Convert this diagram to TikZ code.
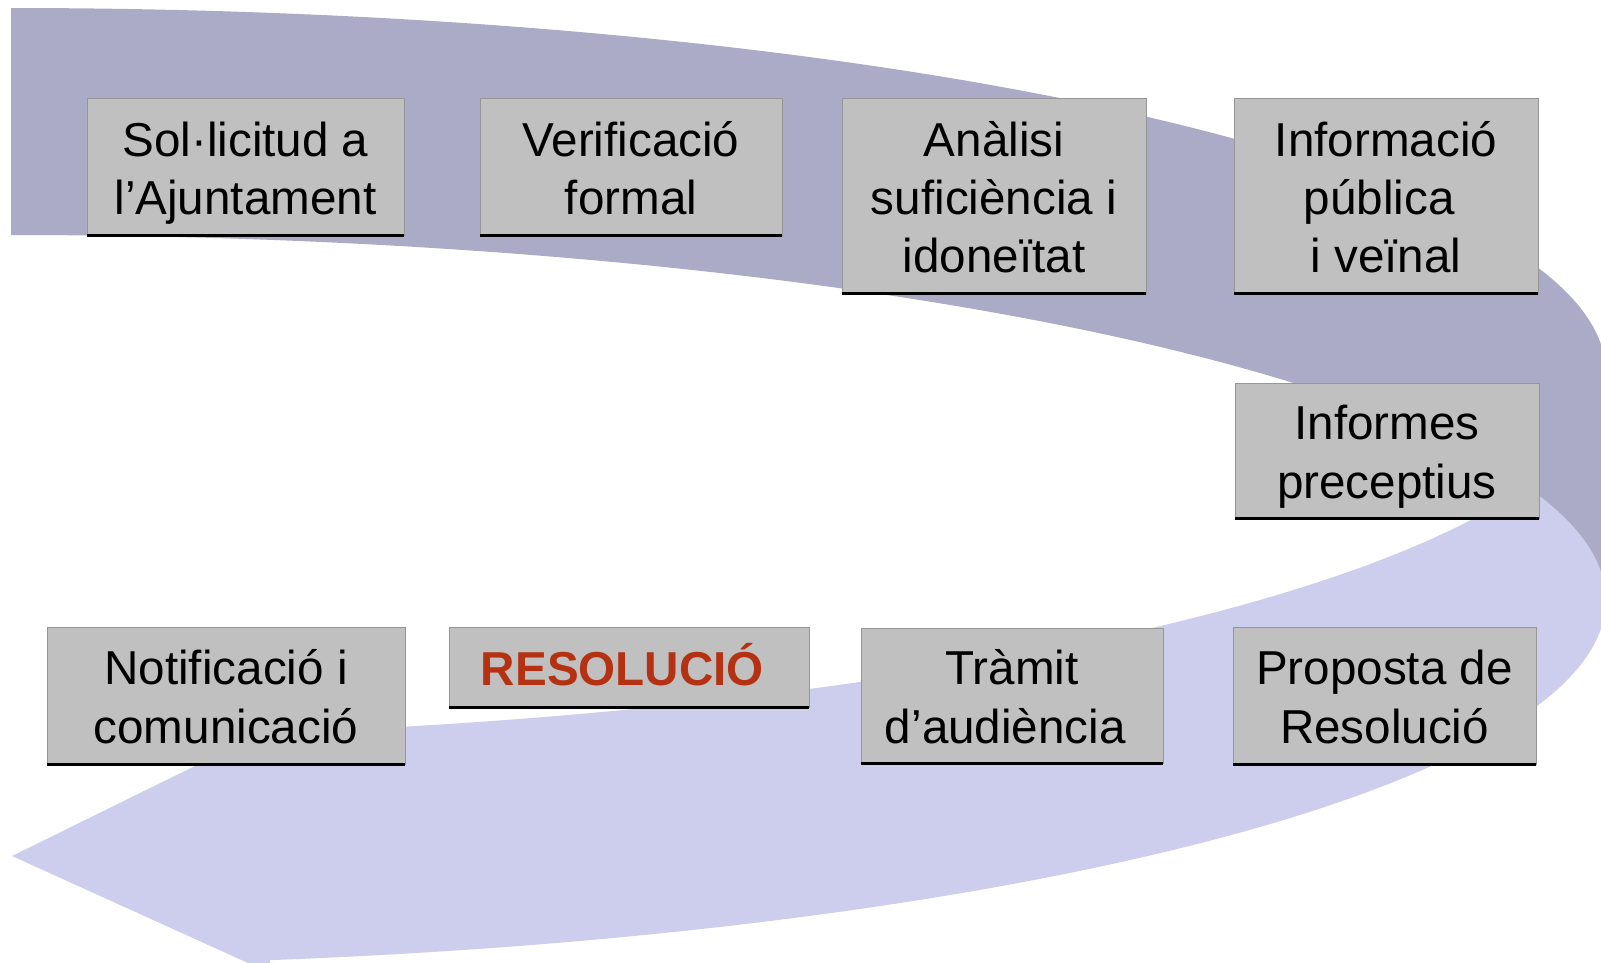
\documentclass[tikz,border=0pt]{standalone}
\usepackage{fontspec}
\setmainfont{Liberation Sans}
\definecolor{bandlight}{RGB}{205,205,238}
\definecolor{banddark}{RGB}{171,171,200}
\definecolor{boxfill}{RGB}{192,192,192}
\definecolor{boxedge}{RGB}{150,150,150}
\definecolor{resred}{RGB}{180,50,18}
\newcommand\lnstrut{\rule[-0.212em]{0pt}{1.2em}}
\begin{document}
\begin{tikzpicture}[x=1pt,y=-1pt,
  stepbox/.style={draw=boxedge, line width=1pt, fill=boxfill, inner sep=0pt, outer sep=0pt,
    align=center, anchor=north west, font=\fontsize{47.6}{58.2}\selectfont},
  bottomrule/.style={line width=3pt, black}]
\useasboundingbox (0,0) rectangle (1601,963);
\begin{scope}
\clip (0,0) rectangle (1601,963);
% front (light) part of the curved arrow
\fill[bandlight]
  plot[domain=0:80.66, samples=160, variable=\t] ({11+1595*cos(\t)},{373+365*sin(\t)})
  -- (270,729.1) -- (12,856) -- (270,973)
  -- plot[domain=80.66:0, samples=160, variable=\t] ({11+1595*cos(\t)},{600+365*sin(\t)})
  -- cycle;
% back (dark) part of the curved arrow
\fill[banddark]
  plot[domain=-90:0, samples=180, variable=\t] ({11+1595*cos(\t)},{373+365*sin(\t)})
  -- plot[domain=0:-90, samples=180, variable=\t] ({11+1595*cos(\t)},{600+365*sin(\t)})
  -- cycle;
\end{scope}
% boxes
\node[stepbox, minimum width=317pt, minimum height=136pt] (b1) at (87,99)
  {\lnstrut Sol·licitud a\\\lnstrut l’Ajuntament};
\node[stepbox, minimum width=302pt, minimum height=136pt] (b2) at (480,99)
  {\lnstrut Verificació\\\lnstrut formal};
\node[stepbox, minimum width=304pt, minimum height=194pt] (b3) at (842,99)
  {\lnstrut Anàlisi\\\lnstrut suficiència i\\\lnstrut idoneïtat};
\node[stepbox, minimum width=304pt, minimum height=194pt] (b4) at (1234,99)
  {\lnstrut Informació\\\lnstrut pública\kern0.278em\\\lnstrut i veïnal};
\node[stepbox, minimum width=304pt, minimum height=135pt] (b5) at (1235,383)
  {\lnstrut Informes\\\lnstrut preceptius};
\node[stepbox, minimum width=358pt, minimum height=137pt] (b6) at (47,627)
  {\lnstrut Notificació i\\\lnstrut comunicació};
\node[stepbox, minimum width=360pt, minimum height=80pt, text=resred] (b7) at (449,627)
  {\lnstrut\bfseries RESOLUCIÓ\kern0.278em};
\node[stepbox, minimum width=302pt, minimum height=135pt] (b8) at (861,628)
  {\lnstrut Tràmit\\\lnstrut d’audiència\kern0.278em};
\node[stepbox, minimum width=303pt, minimum height=137pt] (b9) at (1233,627)
  {\lnstrut Proposta de\\\lnstrut Resolució};
\foreach \n in {b1,b2,b3,b4,b5,b6,b7,b8,b9}
  \draw[bottomrule] (\n.south west) -- (\n.south east);
\end{tikzpicture}
\end{document}
